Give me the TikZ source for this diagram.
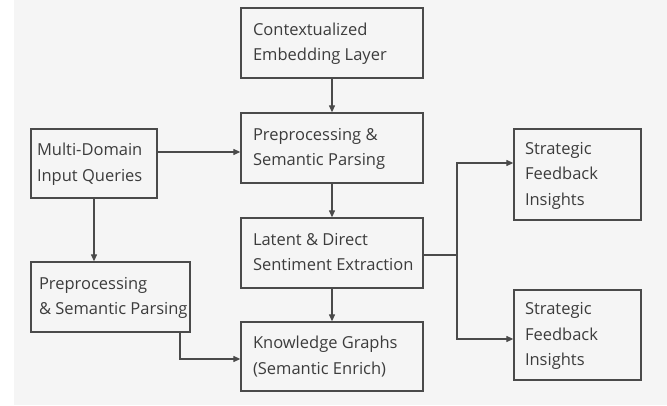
\documentclass[tikz,border=0pt]{standalone}
\usepackage{fontspec}
\setmainfont{Open Sans}
\usetikzlibrary{arrows.meta}
\definecolor{bg}{HTML}{F5F5F5}
\definecolor{ink}{HTML}{4A4A4A}
\definecolor{txt}{HTML}{3C3C3C}
\newcommand\boxtext[2]{\makebox[#1][l]{\begin{tabular}{@{}l@{}}#2\end{tabular}}}
\tikzset{
  box/.style={draw=ink, line width=1.3pt, fill=bg, inner sep=0pt,
    text=txt, minimum width=#1,
    font=\fontsize{16.5}{25.5}\selectfont},
  conn/.style={draw=ink, line width=1.2pt, -{Triangle[length=7pt,width=6pt]}},
  line/.style={draw=ink, line width=1.2pt}
}
\begin{document}
\begin{tikzpicture}[x=1pt,y=-1pt]
\useasboundingbox (0,0) rectangle (667,406);
\fill[bg] (14,0) rectangle (667,405);
% boxes
\node[box=182pt, minimum height=70pt] (ctx) at (332,43) {\boxtext{158pt}{Contextualized\\Embedding Layer}};
\node[box=182pt, minimum height=70pt] (pre) at (332,148) {\boxtext{158pt}{Preprocessing \&\\Semantic Parsing}};
\node[box=126pt, minimum height=69pt] (multi) at (94,163.5) {\boxtext{114pt}{Multi-Domain\\Input Queries}};
\node[box=182pt, minimum height=70pt] (lat) at (332,253) {\boxtext{158pt}{Latent \& Direct\\Sentiment Extraction}};
\node[box=182pt, minimum height=69pt] (kg) at (332,356.5) {\boxtext{158pt}{Knowledge Graphs\\(Semantic Enrich)}};
\node[box=159pt, minimum height=70pt] (lpre) at (110.5,297) {\boxtext{143pt}{Preprocessing\\\& Semantic Parsing}};
\node[box=127pt, minimum height=91pt] (s1) at (577.5,174.5) {\boxtext{105pt}{Strategic\\Feedback\\Insights}};
\node[box=127pt, minimum height=90pt] (s2) at (577.5,335) {\boxtext{105pt}{Strategic\\Feedback\\Insights}};
% connectors
\draw[conn] (ctx) -- (pre);
\draw[conn] (pre) -- (lat);
\draw[conn] (lat) -- (kg);
\draw[conn] (multi.east |- 0,152) -- (pre.west |- 0,152);
\draw[conn] (multi) -- (lpre.north -| multi);
\coordinate (lb) at (180,0);
\draw[conn] (lpre.south -| lb) |- (kg.west |- 0,359);
\coordinate (br) at (457,255);
\draw[line] (lat.east |- br) -- (br);
\draw[conn] (br) |- (s1.west |- 0,163);
\draw[conn] (br) |- (s2.west |- 0,339);
\end{tikzpicture}
\end{document}
